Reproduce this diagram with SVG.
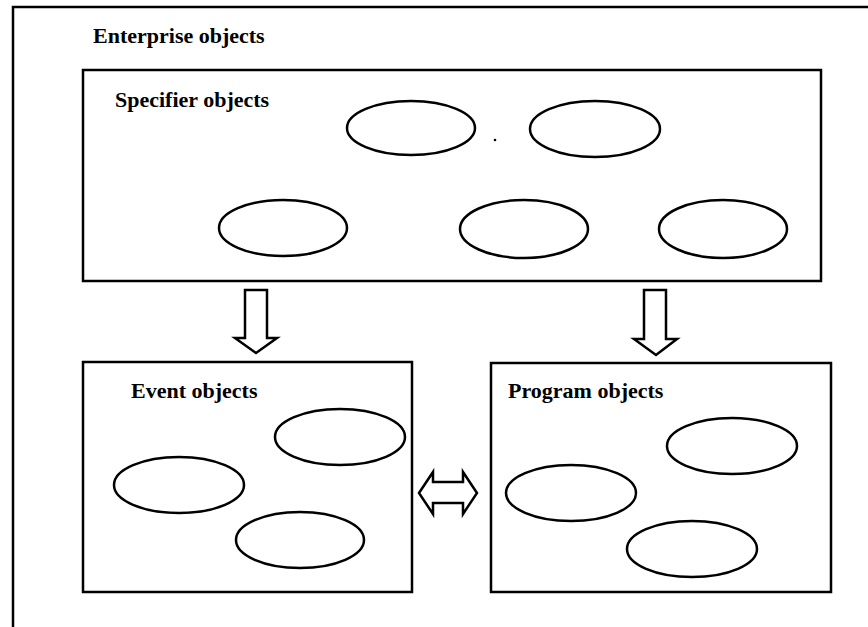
<svg xmlns="http://www.w3.org/2000/svg" width="868" height="627" viewBox="0 0 868 627">
  <style>
    .frame { fill: none; stroke: #000; stroke-width: 2.5; }
    .obj { fill: #fff; stroke: #000; stroke-width: 2.5; }
    .arrow { fill: #fff; stroke: #000; stroke-width: 2.5; stroke-linejoin: miter; }
    .label { font-family: "Liberation Serif", "Times New Roman", serif; font-weight: bold; font-size: 22px; fill: #000; }
  </style>
  <rect width="868" height="627" fill="#fff"/>

  <!-- outer enterprise frame (runs past the right and bottom edges) -->
  <g id="enterprise">
    <path class="frame" d="M13,627 L13,7 L870,7"/>
    <text class="label" x="93" y="43">Enterprise objects</text>
  </g>

  <g id="specifier">
    <rect class="frame" x="83" y="70" width="738" height="211"/>
    <text class="label" x="115" y="107">Specifier objects</text>
    <ellipse class="obj" cx="411" cy="128" rx="64" ry="27"/>
    <ellipse class="obj" cx="595" cy="129" rx="65" ry="28"/>
    <circle cx="495" cy="140" r="1.3" fill="#000"/>
    <ellipse class="obj" cx="283" cy="228" rx="64" ry="28"/>
    <ellipse class="obj" cx="524" cy="229" rx="64" ry="29"/>
    <ellipse class="obj" cx="723" cy="229" rx="64" ry="29"/>
  </g>

  <g id="event">
    <rect class="frame" x="83" y="362" width="329" height="230"/>
    <text class="label" x="131" y="398">Event objects</text>
    <ellipse class="obj" cx="340" cy="437" rx="65" ry="28"/>
    <ellipse class="obj" cx="179" cy="485" rx="65" ry="28"/>
    <ellipse class="obj" cx="300" cy="540" rx="64" ry="28"/>
  </g>

  <g id="program">
    <rect class="frame" x="491" y="363" width="340" height="229"/>
    <text class="label" x="508" y="398">Program objects</text>
    <ellipse class="obj" cx="732" cy="446" rx="65" ry="28"/>
    <ellipse class="obj" cx="571" cy="493" rx="65" ry="28"/>
    <ellipse class="obj" cx="692" cy="549" rx="65" ry="28"/>
  </g>

  <g id="connectors">
    <path class="arrow" d="M245,290 L267,290 L267,338 L277,338 L256,353 L235,338 L245,338 Z"/>
    <path class="arrow" d="M644,290 L666,290 L666,339 L677,339 L656,355 L634,339 L644,339 Z"/>
    <path class="arrow" d="M419,493 L433,472 L433,482 L463,482 L463,472 L477,493 L463,514 L463,503 L433,503 L433,514 Z"/>
  </g>
</svg>
